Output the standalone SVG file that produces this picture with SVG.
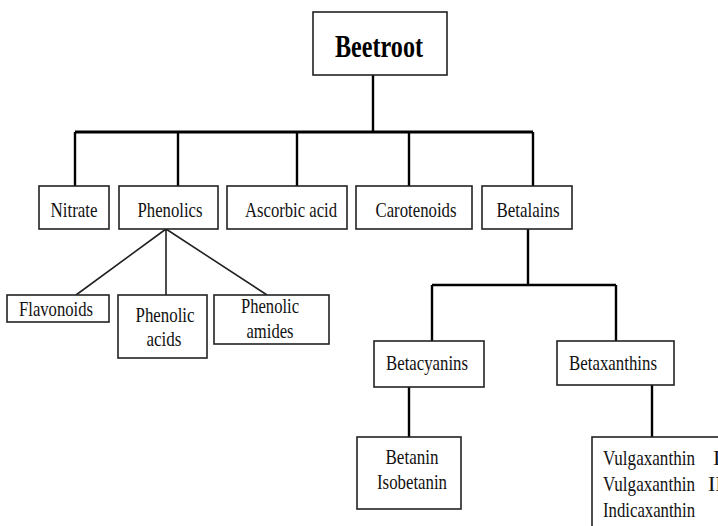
<svg xmlns="http://www.w3.org/2000/svg" width="718" height="526" viewBox="0 0 718 526">
<style>
.box{fill:#fff;stroke:#222;stroke-width:1.6}
.t{font-family:"Liberation Serif","Times New Roman",serif;font-size:22px;fill:#111;text-anchor:middle}
.tl{font-family:"Liberation Serif","Times New Roman",serif;font-size:22px;fill:#111}
.title{font-family:"Liberation Serif","Times New Roman",serif;font-size:31px;font-weight:bold;fill:#000;text-anchor:middle}
.c{stroke:#000;stroke-width:2.4;fill:none}
.bar{stroke:#000;stroke-width:3.2;fill:none}
.fan{stroke:#222;stroke-width:1.6;fill:none}
</style>
<rect width="718" height="526" fill="#fff"/>
<g id="connectors">
<path class="c" d="M373 75V132"/>
<path class="bar" d="M75 132H533"/>
<path class="c" d="M75 132V186M178 132V186M297 132V186M409 132V186M533 132V186"/>
<path class="fan" d="M166 229L76 295M166 229V295M166 229L267 295"/>
<path class="c" d="M528 229V285M432 285H616M432 285V341M616 285V341"/>
<path class="c" d="M409 387V437M652 385V437"/>
</g>
<g id="beetroot"><rect class="box" x="313" y="12" width="134" height="63"/><text class="title" x="379" y="57" textLength="88" lengthAdjust="spacingAndGlyphs">Beetroot</text></g>
<g id="nitrate"><rect class="box" x="39" y="186" width="70" height="43"/><text class="t" x="74" y="217" textLength="47" lengthAdjust="spacingAndGlyphs">Nitrate</text></g>
<g id="phenolics"><rect class="box" x="119" y="186" width="99" height="43"/><text class="t" x="170" y="217" textLength="65" lengthAdjust="spacingAndGlyphs">Phenolics</text></g>
<g id="ascorbic"><rect class="box" x="227" y="186" width="120" height="43"/><text class="t" x="291" y="217" textLength="92" lengthAdjust="spacingAndGlyphs">Ascorbic acid</text></g>
<g id="carotenoids"><rect class="box" x="356" y="186" width="116" height="43"/><text class="t" x="416" y="217" textLength="81" lengthAdjust="spacingAndGlyphs">Carotenoids</text></g>
<g id="betalains"><rect class="box" x="482" y="186" width="90" height="43"/><text class="t" x="528" y="217" textLength="63" lengthAdjust="spacingAndGlyphs">Betalains</text></g>
<g id="flavonoids"><rect class="box" x="7" y="295" width="102" height="27"/><text class="t" x="56" y="316" textLength="74" lengthAdjust="spacingAndGlyphs">Flavonoids</text></g>
<g id="phenolic-acids"><rect class="box" x="118" y="295" width="89" height="63"/><text class="t" x="165" y="322" textLength="59" lengthAdjust="spacingAndGlyphs">Phenolic</text><text class="t" x="164" y="346" textLength="35" lengthAdjust="spacingAndGlyphs">acids</text></g>
<g id="phenolic-amides"><rect class="box" x="214" y="295" width="115" height="49"/><text class="t" x="270" y="313" textLength="58" lengthAdjust="spacingAndGlyphs">Phenolic</text><text class="t" x="270" y="338" textLength="47" lengthAdjust="spacingAndGlyphs">amides</text></g>
<g id="betacyanins"><rect class="box" x="374" y="341" width="110" height="46"/><text class="t" x="427" y="370" textLength="82" lengthAdjust="spacingAndGlyphs">Betacyanins</text></g>
<g id="betaxanthins"><rect class="box" x="557" y="341" width="117" height="44"/><text class="t" x="613" y="370" textLength="88" lengthAdjust="spacingAndGlyphs">Betaxanthins</text></g>
<g id="betanin"><rect class="box" x="357" y="437" width="104" height="72"/><text class="t" x="412" y="464" textLength="53" lengthAdjust="spacingAndGlyphs">Betanin</text><text class="t" x="412" y="489" textLength="70" lengthAdjust="spacingAndGlyphs">Isobetanin</text></g>
<g id="vulgaxanthin"><rect class="box" x="592" y="437" width="140" height="100"/>
<text class="tl" y="465"><tspan x="603" textLength="92" lengthAdjust="spacingAndGlyphs">Vulgaxanthin</tspan><tspan x="713">I</tspan></text>
<text class="tl" y="491"><tspan x="603" textLength="92" lengthAdjust="spacingAndGlyphs">Vulgaxanthin</tspan><tspan x="708">II</tspan></text>
<text class="tl" x="603" y="517" textLength="92" lengthAdjust="spacingAndGlyphs">Indicaxanthin</text></g>
</svg>
